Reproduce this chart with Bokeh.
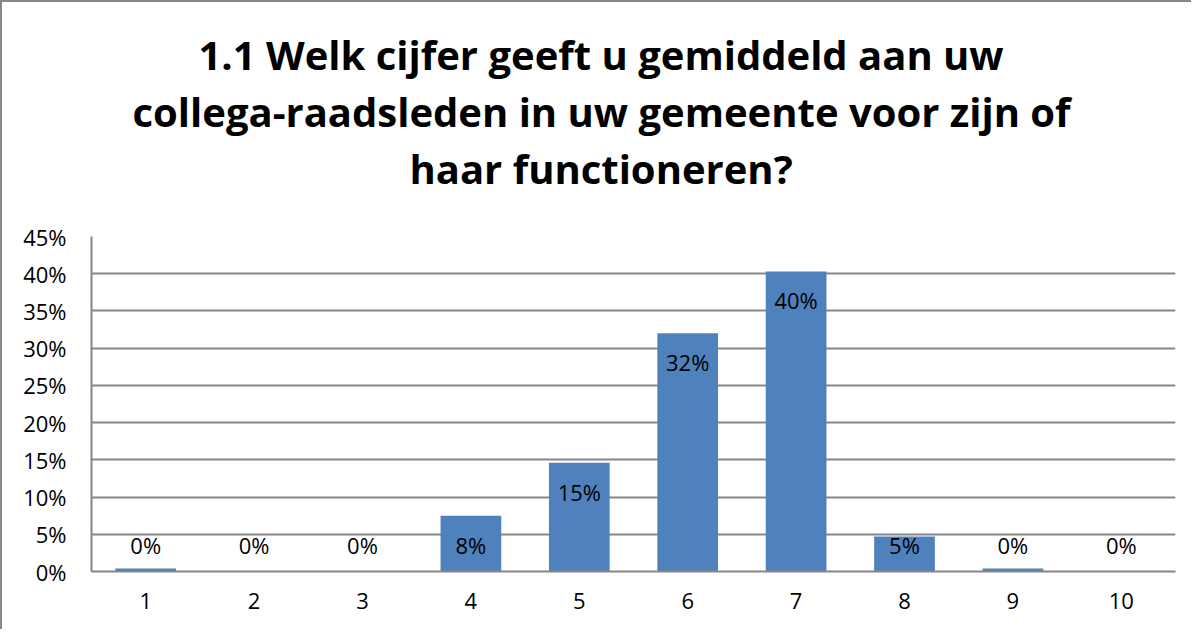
from bokeh.plotting import figure
from bokeh.models import ColumnDataSource, Title, FixedTicker, CustomJSTickFormatter
from bokeh.core.properties import value
from bokeh.embed import file_html
from bokeh.resources import INLINE

# ---- data ----
categories = ["1", "2", "3", "4", "5", "6", "7", "8", "9", "10"]
percentages = [0.4, 0.0, 0.0, 7.5, 14.6, 32.0, 40.3, 4.7, 0.4, 0.0]
y_ticks = [0, 5, 10, 15, 20, 25, 30, 35, 40, 45]
title_lines = [
    "1.1 Welk cijfer geeft u gemiddeld aan uw",
    "collega-raadsleden in uw gemeente voor zijn of",
    "haar functioneren?",
]

FONT = "Open Sans"
GRID = "#868686"
BAR = "#4F81BD"

labels = [f"{int(v + 0.5)}%" for v in percentages]
label_anchor = [max(v, 7.5) for v in percentages]

src = ColumnDataSource(dict(cat=categories, val=percentages, lab=labels, ly=label_anchor))

p = figure(
    x_range=categories, y_range=(0, 45),
    width=1191, height=629,
    output_backend="svg", toolbar_location=None,
    min_border_left=89, min_border_right=18, min_border_bottom=60, min_border_top=234,
)

p.vbar(x="cat", top="val", width=0.56, source=src, fill_color=BAR, line_color=None)
p.text(x="cat", y="ly", text="lab", source=src, text_align="center", text_baseline="middle",
       y_offset=29, text_font=value(FONT), text_font_size="22px", text_color="black")

# title: p.title is outermost; "above" items added first sit closest to the plot
def style_title(t, offset, size="40px"):
    t.align = "left"
    t.text_font = FONT
    t.text_font_style = "bold"
    t.text_font_size = size
    t.text_color = "black"
    t.standoff = 0
    t.offset = offset

p.title.text = title_lines[0]
style_title(p.title, 107)
spacer = Title(text=" ")
style_title(spacer, 0, "29px")
p.add_layout(spacer, "above")
t3 = Title(text=title_lines[2])
style_title(t3, 318)
p.add_layout(t3, "above")
t2 = Title(text=title_lines[1])
style_title(t2, 41)
p.add_layout(t2, "above")

# axes
p.yaxis.ticker = FixedTicker(ticks=y_ticks)
p.yaxis.formatter = CustomJSTickFormatter(code="return tick.toFixed(0) + '%';")
for ax in (p.xaxis[0], p.yaxis[0]):
    ax.axis_line_color = GRID
    ax.axis_line_width = 2
    ax.major_tick_line_color = None
    ax.minor_tick_line_color = None
    ax.major_tick_out = 0
    ax.major_tick_in = 0
    ax.major_label_text_font = FONT
    ax.major_label_text_font_size = "22px"
    ax.major_label_text_color = "black"
p.yaxis.major_label_standoff = 25
p.xaxis.major_label_standoff = 21

p.xgrid.grid_line_color = None
p.ygrid.grid_line_color = GRID
p.ygrid.grid_line_width = 2
p.outline_line_color = None
p.styles = {"border-left": "2px solid #878787", "border-top": "2px solid #878787"}

open("out.html", "w").write(file_html(p, INLINE))
